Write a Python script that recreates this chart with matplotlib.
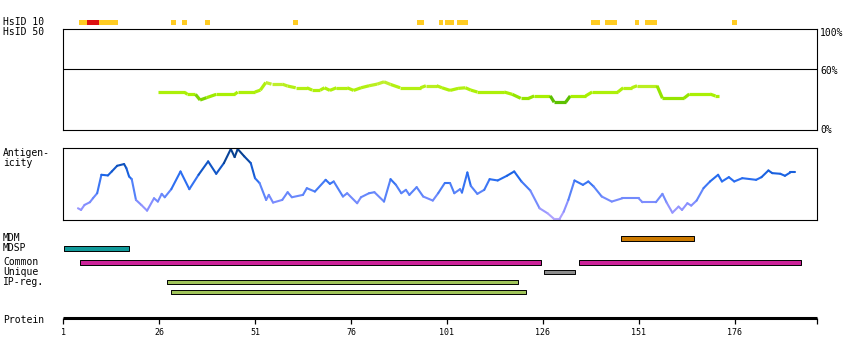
import numpy as np
import matplotlib.pyplot as plt
from matplotlib.collections import LineCollection
from matplotlib.colors import LinearSegmentedColormap

W, H = 850, 360
PX_PER_RES = 3.84
X0 = 63                      # pixel column of residue 1
RES_END = 1 + (817 - X0) / PX_PER_RES

# HsID 10 hits (start, end residue)
hsid10_yellow = [(5.2, 15.3), (29.1, 30.4), (32.0, 33.3), (38.0, 39.3), (60.9, 62.2),
                 (93.2, 95.0), (98.9, 100.0), (100.5, 102.8), (103.6, 106.5),
                 (138.5, 140.8), (142.1, 145.3), (149.9, 151.0), (152.6, 155.7),
                 (175.2, 176.5)]
hsid10_red = [(7.25, 10.4)]

# HsID 50 identity (%)
hsid50_res = [25.7, 32.7, 33.4, 35.5, 36.7, 38.4, 40.9, 45.7, 46.5, 51.0, 52.4, 53.8,
              55.3, 58.1, 59.5, 61.6, 64.5, 65.9, 68.0, 69.1, 70.5, 72.2, 75.0, 76.7,
              78.6, 80.7, 82.8, 84.6, 86.3, 88.8, 94.1, 95.5, 98.3, 99.7, 101.8, 103.9,
              105.8, 107.2, 108.9, 115.9, 118.0, 120.2, 122.3, 123.7, 127.9, 128.9,
              131.9, 133.1, 137.1, 138.8, 145.5, 146.9, 149.1, 150.5, 155.7, 157.1,
              162.7, 164.1, 169.5, 170.9, 171.9]
hsid50_val = [37.3, 37.3, 35.3, 35.3, 29.7, 32.0, 35.3, 35.3, 37.6, 37.6, 39.5, 47.0,
              45.4, 45.4, 43.5, 41.8, 41.8, 39.5, 39.5, 41.8, 39.2, 41.8, 41.8, 39.2,
              41.8, 43.8, 45.4, 47.7, 45.1, 41.8, 41.8, 43.8, 43.8, 41.8, 39.2, 41.2,
              41.8, 39.5, 37.6, 37.6, 35.3, 31.4, 31.4, 33.7, 33.7, 27.5, 27.5, 33.7,
              33.7, 37.6, 37.6, 41.8, 41.8, 43.8, 43.8, 31.4, 31.4, 35.6, 35.6, 33.7,
              33.7]

# antigenicity (relative 0..1)
antigen_res = [4.9, 5.7, 6.6, 8.0, 8.8, 9.9, 11.0, 12.7, 13.7, 15.1, 16.9, 17.5, 18.2,
               18.9, 20.0, 21.4, 22.9, 24.7, 25.7, 26.7, 27.5, 29.2, 31.6, 33.9, 36.3,
               38.8, 40.9, 42.9, 44.7, 45.7, 46.5, 48.2, 49.9, 51.0, 52.2, 53.9, 54.6,
               55.7, 58.1, 59.5, 60.6, 63.5, 64.5, 66.6, 69.4, 70.5, 71.5, 73.9, 75.0,
               77.6, 78.6, 80.7, 82.1, 84.6, 86.3, 87.7, 89.1, 90.3, 91.2, 93.1, 94.8,
               97.3, 98.7, 100.4, 101.8, 102.9, 104.4, 104.9, 106.3, 107.2, 108.9,
               110.7, 112.1, 114.2, 116.6, 118.5, 120.4, 122.7, 125.1, 127.2, 128.9,
               130.3, 131.4, 132.6, 134.2, 136.4, 137.8, 139.2, 141.3, 143.9, 146.7,
               150.9, 151.9, 155.4, 157.1, 158.2, 159.7, 161.3, 162.2, 163.6, 164.6,
               166.0, 167.8, 169.5, 171.6, 172.6, 174.4, 175.8, 177.9, 181.5, 182.9,
               184.7, 185.7, 187.8, 189.0, 190.4, 191.6]
antigen_val = [0.163, 0.14, 0.209, 0.247, 0.302, 0.372, 0.628, 0.619, 0.674, 0.753,
               0.777, 0.72, 0.605, 0.567, 0.279, 0.209, 0.13, 0.302, 0.256, 0.363,
               0.316, 0.428, 0.674, 0.428, 0.628, 0.814, 0.642, 0.79, 0.986, 0.874,
               0.986, 0.884, 0.79, 0.581, 0.512, 0.279, 0.349, 0.242, 0.279, 0.386,
               0.316, 0.349, 0.442, 0.395, 0.558, 0.502, 0.535, 0.326, 0.372, 0.233,
               0.316, 0.372, 0.386, 0.256, 0.567, 0.488, 0.372, 0.419, 0.349, 0.456,
               0.326, 0.27, 0.372, 0.512, 0.512, 0.372, 0.428, 0.381, 0.66, 0.474,
               0.363, 0.419, 0.567, 0.549, 0.614, 0.674, 0.535, 0.409, 0.163, 0.093,
               0.014, 0.014, 0.116, 0.279, 0.549, 0.488, 0.535, 0.465, 0.326, 0.256,
               0.302, 0.302, 0.247, 0.247, 0.363, 0.242, 0.102, 0.186, 0.14, 0.233,
               0.2, 0.27, 0.442, 0.535, 0.628, 0.535, 0.595, 0.535, 0.581, 0.558,
               0.595, 0.688, 0.651, 0.642, 0.614, 0.66, 0.66]

# features (start, end residue)
mdm = [(146.4, 165.3)]
mdsp = [(1.3, 18.2)]
common = [(5.3, 125.5), (135.3, 193.1)]
unique = [(126.3, 134.3)]
ip_reg_1 = [(28.1, 119.4)]
ip_reg_2 = [(29.1, 121.6)]

tick_res = [1, 26, 51, 76, 101, 126, 151, 176]

fig = plt.figure(figsize=(W / 100, H / 100), dpi=100)
MONO = 'DejaVu Sans Mono'


def px_axes(left, top, right, bottom):
    return fig.add_axes([left / W, 1 - bottom / H, (right - left) / W, (bottom - top) / H])


def label(x, y, s, size=7, **kw):
    fig.text(x / W, 1 - y / H, s, fontsize=size, family=MONO, va='center', **kw)


def spans(pairs):
    return [(s, e - s) for s, e in pairs]


# full-figure axis: x in residues, y in pixels
ax = fig.add_axes([0, 0, 1, 1])
ax.set_xlim(1 - X0 / PX_PER_RES, 1 + (W - X0) / PX_PER_RES)
ax.set_ylim(H, 0)
ax.axis('off')

ax.broken_barh(spans(hsid10_yellow), (20, 5), facecolor='#ffcc22')
ax.broken_barh(spans(hsid10_red), (20, 5), facecolor='#dd1111')

bar = dict(edgecolor='black', linewidth=0.7)
ax.broken_barh(spans(mdm), (235.5, 5), facecolor='#cc7a00', **bar)
ax.broken_barh(spans(mdsp), (245.5, 5), facecolor='#119a9a', **bar)
ax.broken_barh(spans(common), (260, 4.5), facecolor='#cc2299', **bar)
ax.broken_barh(spans(unique), (270.3, 4), facecolor='#8c8c8c', **bar)
ax.broken_barh(spans(ip_reg_1), (280.3, 4), facecolor='#a0c45a', **bar)
ax.broken_barh(spans(ip_reg_2), (290.3, 4), facecolor='#a0c45a', **bar)

# protein ruler
ax.plot([1, RES_END], [318.3, 318.3], color='black', lw=2.2, solid_capstyle='butt')
ax.vlines(tick_res + [RES_END], 318, 323.5, color='black', lw=0.9)
for t in tick_res:
    ax.text(t, 332.5, str(t), fontsize=6, family=MONO, ha='center', va='center')

# HsID 50 panel
ax50 = px_axes(X0, 29, 817, 130)
ax50.set_xlim(1, RES_END)
ax50.set_ylim(0, 100)
ax50.set_xticks([])
ax50.set_yticks([])
for s in ax50.spines.values():
    s.set_linewidth(0.8)
ax50.axhline(60, color='black', lw=0.8)
x = np.array(hsid50_res)
y = np.array(hsid50_val)
segs = np.stack([np.column_stack([x[:-1], y[:-1]]), np.column_stack([x[1:], y[1:]])], axis=1)
gcmap = LinearSegmentedColormap.from_list('g', [(0, '#5cc000'), (0.25, '#a6f000'),
                                                (0.7, '#b2f010'), (1, '#c6ee3a')])
lc = LineCollection(segs, cmap=gcmap, linewidths=2.3, capstyle='butt')
lc.set_array(np.minimum(y[:-1], y[1:]))
lc.set_clim(27.5, 47.5)
ax50.add_collection(lc)
label(820, 33, '100%')
label(820, 71, '60%')
label(820, 130, '0%')

# antigenicity panel
axa = px_axes(X0, 148, 817, 220)
axa.set_xlim(1, RES_END)
axa.set_ylim(0, 1)
axa.set_xticks([])
axa.set_yticks([])
for s in axa.spines.values():
    s.set_linewidth(0.8)
x = np.array(antigen_res)
y = np.array(antigen_val)
segs = np.stack([np.column_stack([x[:-1], y[:-1]]), np.column_stack([x[1:], y[1:]])], axis=1)
bcmap = LinearSegmentedColormap.from_list('b', ['#b8a8ff', '#8a90ff', '#5a84fa', '#1f68ee', '#0a4cb0', '#063a80'])
lc = LineCollection(segs, cmap=bcmap, linewidths=1.5, capstyle='round')
lc.set_array((y[:-1] + y[1:]) / 2)
lc.set_clim(0, 1)
lc.set_clip_on(False)
axa.add_collection(lc)

# row labels
label(3, 22, 'HsID 10')
label(3, 32, 'HsID 50')
label(3, 153, 'Antigen-')
label(3, 163, 'icity')
label(3, 238, 'MDM')
label(3, 248, 'MDSP')
label(3, 262, 'Common')
label(3, 272, 'Unique')
label(3, 282, 'IP-reg.')
label(3, 320, 'Protein')

fig.savefig('out.png', dpi=100)
